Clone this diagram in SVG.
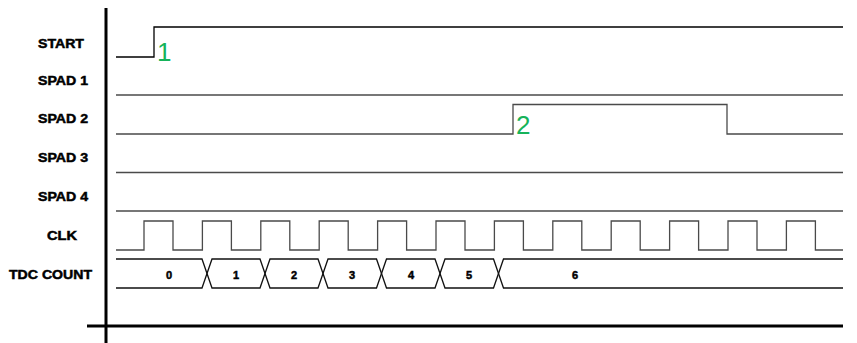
<svg xmlns="http://www.w3.org/2000/svg" width="857" height="343" viewBox="0 0 857 343">
<style>
.lbl{font-family:"Liberation Sans",Arial,sans-serif;font-weight:bold;font-size:13px;fill:#000;stroke:#000;stroke-width:0.5}
.num{font-family:"Liberation Sans",Arial,sans-serif;font-weight:bold;font-size:11px;fill:#000;stroke:#000;stroke-width:0.5;text-anchor:middle}
.ev{font-family:"Liberation Sans",Arial,sans-serif;font-size:26px;fill:#16b35a}
.sig{fill:none;stroke:#4a4a4a;stroke-width:1.3}
.axis{fill:none;stroke:#000;stroke-width:3}
</style>
<rect width="857" height="343" fill="#fff"/>
<g id="axes">
<line class="axis" x1="106" y1="8" x2="106" y2="343"/>
<line class="axis" x1="87" y1="326" x2="843" y2="326"/>
</g>
<g id="labels">
<text class="lbl" x="38" y="48" textLength="46" lengthAdjust="spacingAndGlyphs">START</text>
<text class="lbl" x="38" y="85" textLength="50" lengthAdjust="spacingAndGlyphs">SPAD 1</text>
<text class="lbl" x="38" y="123" textLength="50" lengthAdjust="spacingAndGlyphs">SPAD 2</text>
<text class="lbl" x="38" y="162" textLength="50" lengthAdjust="spacingAndGlyphs">SPAD 3</text>
<text class="lbl" x="38" y="201" textLength="50" lengthAdjust="spacingAndGlyphs">SPAD 4</text>
<text class="lbl" x="47" y="240" textLength="30" lengthAdjust="spacingAndGlyphs">CLK</text>
<text class="lbl" x="9" y="279" textLength="83" lengthAdjust="spacingAndGlyphs">TDC COUNT</text>
</g>
<g id="start">
<polyline class="sig" style="stroke:#000" points="116,57 154,57 154,27 843,27"/>
<text class="ev" x="157" y="61">1</text>
</g>
<g id="spad1"><line class="sig" x1="116" y1="95" x2="843" y2="95"/></g>
<g id="spad2">
<polyline class="sig" points="116,134 513,134 513,104.5 727,104.5 727,134 843,134"/>
<text class="ev" x="516" y="134">2</text>
</g>
<g id="spad3"><line class="sig" x1="116" y1="172.5" x2="843" y2="172.5"/></g>
<g id="spad4"><line class="sig" x1="116" y1="211" x2="843" y2="211"/></g>
<g id="clk">
<polyline class="sig" points="116,250 144,250 144,221 173,221 173,250 202.4,250 202.4,221 231.4,221 231.4,250 260.8,250 260.8,221 289.8,221 289.8,250 319.2,250 319.2,221 348.2,221 348.2,250 377.6,250 377.6,221 406.6,221 406.6,250 436,250 436,221 465,221 465,250 494.4,250 494.4,221 523.4,221 523.4,250 552.8,250 552.8,221 581.8,221 581.8,250 611.2,250 611.2,221 640.2,221 640.2,250 669.6,250 669.6,221 698.6,221 698.6,250 728,250 728,221 757,221 757,250 786.4,250 786.4,221 815.4,221 815.4,250 843,250"/>
</g>
<g id="tdc">
<polyline class="sig" style="stroke:#111" points="116,259 202,259 212,288 260,288 270,259 318,259 328,288 376.5,288 386.5,259 435,259 445,288 493.5,288 503.5,259 843,259"/>
<polyline class="sig" style="stroke:#111" points="116,288 202,288 212,259 260,259 270,288 318,288 328,259 376.5,259 386.5,288 435,288 445,259 493.5,259 503.5,288 843,288"/>
<text class="num" x="169" y="279">0</text>
<text class="num" x="236" y="279">1</text>
<text class="num" x="294" y="279">2</text>
<text class="num" x="352" y="279">3</text>
<text class="num" x="411" y="279">4</text>
<text class="num" x="469" y="279">5</text>
<text class="num" x="575" y="279">6</text>
</g>
</svg>
